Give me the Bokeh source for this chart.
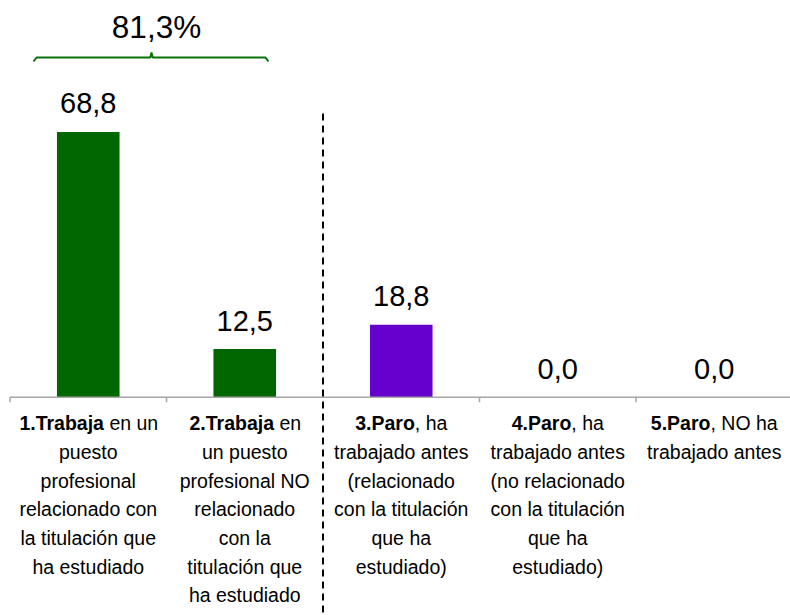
from bokeh.plotting import figure
from bokeh.models import Range1d, ColumnDataSource
from bokeh.core.properties import value
from bokeh.embed import file_html
from bokeh.resources import INLINE

# ---------------- data ----------------
categories = ["1", "2", "3", "4", "5"]
values = [68.8, 12.5, 18.8, 0.0, 0.0]
bar_colors = ["#006600", "#006600", "#6600CC", "#6600CC", "#6600CC"]
group_total_label = "81,3%"

cat_bold = ["1.Trabaja", "2.Trabaja", "3.Paro", "4.Paro", "5.Paro"]
cat_first_rest = [" en un", " en", ", ha", ", ha", ", NO ha"]
cat_more_lines = [
    ["puesto", "profesional", "relacionado con", "la titulación que", "ha estudiado"],
    ["un puesto", "profesional NO", "relacionado", "con la", "titulación que", "ha estudiado"],
    ["trabajado antes", "(relacionado", "con la titulación", "que ha", "estudiado)"],
    ["trabajado antes", "(no relacionado", "con la titulación", "que ha", "estudiado)"],
    ["trabajado antes"],
]

# ---------------- layout ----------------
W, H = 790, 615
OFF = 0              # page offset of the figure
KX = 156.5           # px per category
KY = 3.855           # px per unit
X0 = -0.5 - 9.5 / KX
Y_BASE_PX = 396.7    # baseline distance from figure top
x_end = X0 + W / KX
y_end = Y_BASE_PX / KY
y_start = -(H - Y_BASE_PX) / KY

FONT = value("Liberation Sans")

def px_x(sx):  # screen px -> data x
    return X0 + (sx - OFF) / KX

def px_y(sy):  # screen px -> data y
    return (Y_BASE_PX + OFF - sy) / KY

p = figure(width=W, height=H, x_range=Range1d(X0, x_end), y_range=Range1d(y_start, y_end),
           toolbar_location=None, output_backend="svg", min_border=0,
           x_axis_location=None, y_axis_location=None)
p.grid.visible = False
p.outline_line_color = None
p.background_fill_color = "white"
p.border_fill_color = "white"

idx = list(range(len(categories)))

# bars
src = ColumnDataSource(dict(x=idx, top=values, color=bar_colors,
                            lab=[f"{v:.1f}".replace(".", ",") for v in values]))
p.vbar(x="x", top="top", width=0.4, fill_color="color", line_color=None, source=src)

# baseline axis and category separators
p.segment(x0=[-0.5], y0=[0], x1=[x_end], y1=[0], line_color="#a6a6a6", line_width=1.5)
tick_len = 5 / KY
ticks = [i - 0.5 for i in idx if i != 2]
p.segment(x0=ticks, y0=[0] * len(ticks), x1=ticks, y1=[-tick_len] * len(ticks),
          line_color="#a6a6a6", line_width=1.5)

# dashed separator
p.segment(x0=[1.5], y0=[px_y(113)], x1=[1.5], y1=[y_start], line_color="black",
          line_width=2, line_dash="7 5")

# value labels
p.text(x="x", y="top", text="lab", source=src, text_align="center",
       text_baseline="middle", y_offset=-28.5, text_font=FONT,
       text_font_size=value("29px"), text_color="black")

# bracket
bx0, bx1, bm = px_x(33), px_x(268), px_x(151)
yl, yh, yt = px_y(57), px_y(61), px_y(52)
d = 3 / KX
dm = 1.2 / KX
p.line(x=[bx0, bx0 + d, bm - dm, bm, bm + dm, bx1 - d, bx1],
       y=[yh, yl, yl, yt, yl, yl, yh], line_color="#0a700a", line_width=2)
p.text(x=[px_x(156)], y=[px_y(26)], text=[group_total_label], text_align="center",
       text_baseline="middle", text_font=FONT, text_font_size=value("31.5px"),
       text_color="black")

# category labels
FS = 19.5
REG = {' ': 278, 'e': 556, 'n': 556, 'u': 556, ',': 278, 'h': 556, 'a': 556, 'N': 722, 'O': 778}
BOLD = {'1': 556, '2': 556, '3': 556, '4': 556, '5': 556, '.': 278, 'T': 611, 'r': 389,
        'a': 556, 'b': 611, 'j': 278, 'P': 667, 'o': 611}

def wid(s, table):
    return sum(table.get(c, 556) for c in s) * FS / 1000

LINE0 = 26
LH = 28.7
splits = [(wid(b, BOLD) - wid(r, REG)) / 2 for b, r in zip(cat_bold, cat_first_rest)]
rest_text = [r.lstrip(" ") for r in cat_first_rest]
rest_off = [s + wid(r[: len(r) - len(r.lstrip(" "))], REG) for s, r in zip(splits, cat_first_rest)]
p.text(x=idx, y=[0] * len(idx), text=cat_bold, x_offset=splits, y_offset=LINE0,
       text_align="right", text_baseline="middle", text_font=FONT,
       text_font_size=value(f"{FS}px"), text_font_style="bold", text_color="black")
p.text(x=idx, y=[0] * len(idx), text=rest_text, x_offset=rest_off, y_offset=LINE0,
       text_align="left", text_baseline="middle", text_font=FONT,
       text_font_size=value(f"{FS}px"), text_color="black")

lx, lt, lo = [], [], []
for i, lines in enumerate(cat_more_lines):
    for j, t in enumerate(lines):
        lx.append(i)
        lt.append(t)
        lo.append(LINE0 + LH * (j + 1))
lsrc = ColumnDataSource(dict(x=lx, y=[0] * len(lx), text=lt, yo=lo))
p.text(x="x", y="y", text="text", y_offset="yo", source=lsrc, text_align="center",
       text_baseline="middle", text_font=FONT, text_font_size=value(f"{FS}px"),
       text_color="black")

open("out.html", "w").write(file_html(p, INLINE))
